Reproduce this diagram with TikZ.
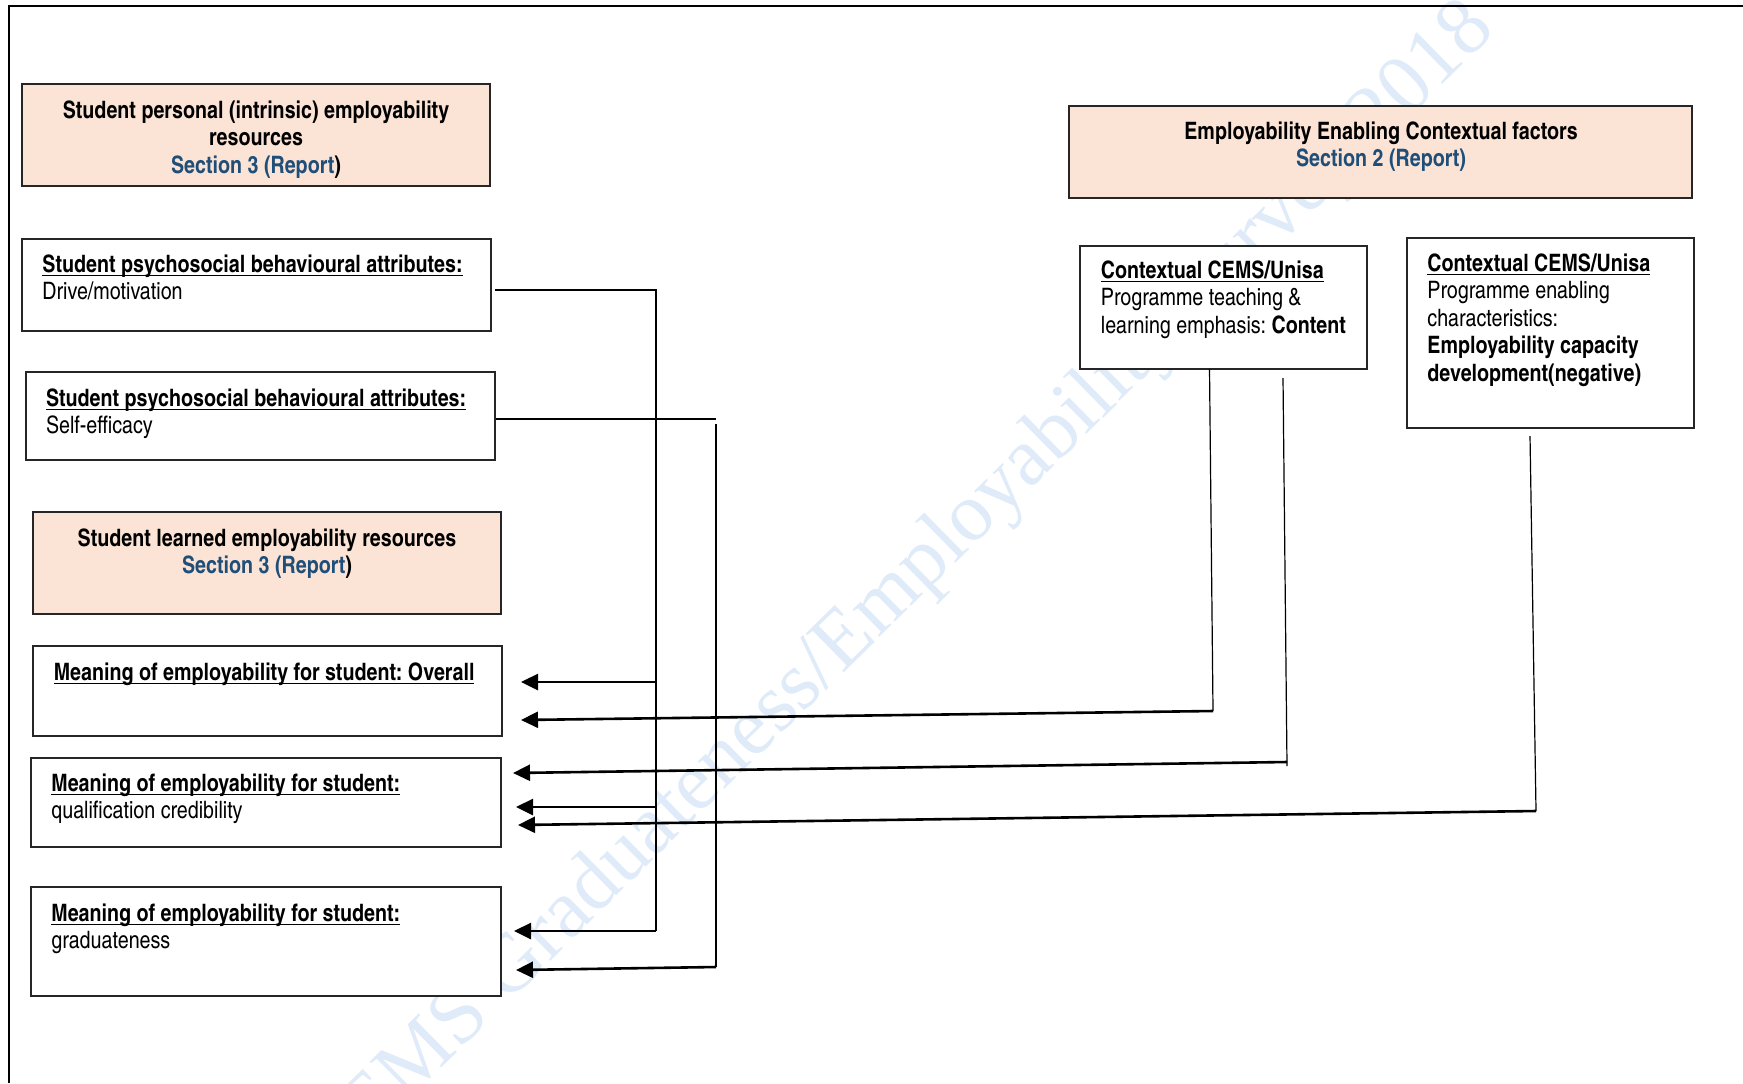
\documentclass[tikz,border=0pt]{standalone}
\usepackage{fontspec}
\setmainfont{texgyreheroscn}[Extension=.otf, UprightFont=*-regular, BoldFont=*-bold, ItalicFont=*-italic, BoldItalicFont=*-bolditalic]
\newfontfamily\wmfont{Liberation Serif}
\usetikzlibrary{arrows.meta}
\definecolor{peach}{HTML}{FBE4D5}
\definecolor{secblue}{HTML}{1F4E79}
\definecolor{wmblue}{RGB}{224,235,249}
\frenchspacing
% bold heading with an underline crossing the descenders
\newsavebox{\hdbox}
\newcommand{\hd}[1]{\sbox{\hdbox}{\textbf{#1}}\rlap{\rule[-1.9pt]{\wd\hdbox}{0.6pt}}\usebox{\hdbox}}
\begin{document}
\begin{tikzpicture}[x=0.5pt,y=-0.5pt,
  box/.style={draw=black!85, line width=0.7pt, fill=white, anchor=north west, inner sep=0pt, outer sep=0pt},
  peachbox/.style={box, fill=peach},
  txt/.style={inner sep=0pt, font=\fontsize{12}{13.8}\selectfont},
  ctxt/.style={txt, anchor=north, align=center},
  ltxt/.style={txt, anchor=north west, align=left},
  link/.style={line width=0.6pt},
  arr/.style={line width=1.3pt, -{Triangle[length=8.5pt,width=8pt]}},
]
\useasboundingbox (0,0) rectangle (1743,1083);

% watermark behind everything
\begin{scope}
  \clip (0,0) rectangle (1743,1083);
  \node[rotate=44.5, text=wmblue, inner sep=0pt, font=\wmfont\fontsize{41.5}{41.5}\selectfont] (wm) at (900,590) {CEMS Graduateness/Employability Survey 2018};
\end{scope}

% page frame
\coordinate (f-tl) at (9,5.5);
\coordinate (f-tr) at (1743,5.5);
\coordinate (f-bl) at (9,1083);
\draw[line width=1pt] (f-tr) -- (f-tl) -- (f-bl);

% boxes
\node[peachbox, minimum width=234pt, minimum height=51pt] (b-personal) at (22,84) {};
\node[peachbox, minimum width=311.5pt, minimum height=46pt] (b-context) at (1069,106) {};
\node[box, minimum width=234.5pt, minimum height=46pt] (b-drive) at (22,239) {};
\node[box, minimum width=234.5pt, minimum height=44pt] (b-self) at (26,372) {};
\node[peachbox, minimum width=234pt, minimum height=51pt] (b-learned) at (33,512) {};
\node[box, minimum width=234.5pt, minimum height=45pt] (b-overall) at (33,646) {};
\node[box, minimum width=235pt, minimum height=44.5pt] (b-qual) at (31,758) {};
\node[box, minimum width=235pt, minimum height=54.5pt] (b-grad) at (31,887) {};
\node[box, minimum width=143.5pt, minimum height=61.5pt] (b-c1) at (1080,246) {};
\node[box, minimum width=143.5pt, minimum height=95pt] (b-c2) at (1407,238) {};

% box texts
\node[ctxt] (t-personal) at (256,100) {\textbf{Student personal (intrinsic) employability}\\\textbf{resources}\\\textbf{\textcolor{secblue}{Section 3 (Report})}};
\node[ctxt] (t-context) at (1381,121) {\textbf{Employability Enabling Contextual factors}\\\textbf{\textcolor{secblue}{Section 2 (Report)}}};
\node[ltxt] (t-drive) at (42,254) {\hd{Student psychosocial behavioural attributes:}\\Drive/motivation};
\node[ltxt] (t-self) at (45.6,388) {\hd{Student psychosocial behavioural attributes:}\\Self-efficacy};
\node[ctxt] (t-learned) at (267,528) {\textbf{Student learned employability resources}\\\textbf{\textcolor{secblue}{Section 3 (Report})}};
\node[ltxt] (t-overall) at (53.4,662) {\hd{Meaning of employability for student: Overall}};
\node[ltxt] (t-qual) at (51,773) {\hd{Meaning of employability for student:}\\qualification credibility};
\node[ltxt] (t-grad) at (51,903) {\hd{Meaning of employability for student:}\\graduateness};
\node[ltxt] (t-c1) at (1100.5,260) {\hd{Contextual CEMS/Unisa}\\Programme teaching \&\\learning emphasis: \textbf{Content}};
\node[ltxt] (t-c2) at (1427,253) {\hd{Contextual CEMS/Unisa}\\Programme enabling\\characteristics:\\\textbf{Employability capacity}\\\textbf{development(negative)}};

% drive/motivation links
\coordinate (dv-top) at (656,290);
\coordinate (dv-a1) at (656,682);
\coordinate (dv-a2) at (656,807);
\coordinate (dv-bot) at (656,931);
\coordinate (tip-d1) at (521,682);
\coordinate (tip-d2) at (516,807);
\coordinate (tip-d3) at (514,931);
\draw[link] ([shift={(4,5)}]b-drive.east) -- (dv-top) -- (dv-bot);
\draw[arr] (dv-a1) -- (tip-d1);
\draw[arr] (dv-a2) -- (tip-d2);
\draw[arr] (dv-bot) -- (tip-d3);

% self-efficacy link
\coordinate (sv-top) at (716,419);
\coordinate (sv-start) at (716,424);
\coordinate (sv-bot) at (716,967);
\coordinate (tip-s) at (516,970);
\draw[link] ([shift={(1,3)}]b-self.east) -- (sv-top);
\draw[link] (sv-start) -- (sv-bot);
\draw[arr] (sv-bot) -- (tip-s);

% content-emphasis links
\coordinate (c1a-bot) at (1213,711);
\coordinate (tip-c1a) at (521,720);
\draw[link] ([shift={(-14,0)}]b-c1.south) -- (c1a-bot);
\draw[arr] (c1a-bot) -- (tip-c1a);
\coordinate (c1b-top) at (1283,378);
\coordinate (c1b-bot) at (1287,766);
\coordinate (c1b-turn) at (1287,762);
\coordinate (tip-c1b) at (513,773);
\draw[link] (c1b-top) -- (c1b-bot);
\draw[arr] (c1b-turn) -- (tip-c1b);

% capacity-development link
\coordinate (c2-top) at (1530,436);
\coordinate (c2-bot) at (1536,811);
\coordinate (tip-c2) at (518,825);
\draw[link] (c2-top) -- (c2-bot);
\draw[arr] (c2-bot) -- (tip-c2);
\end{tikzpicture}
\end{document}
